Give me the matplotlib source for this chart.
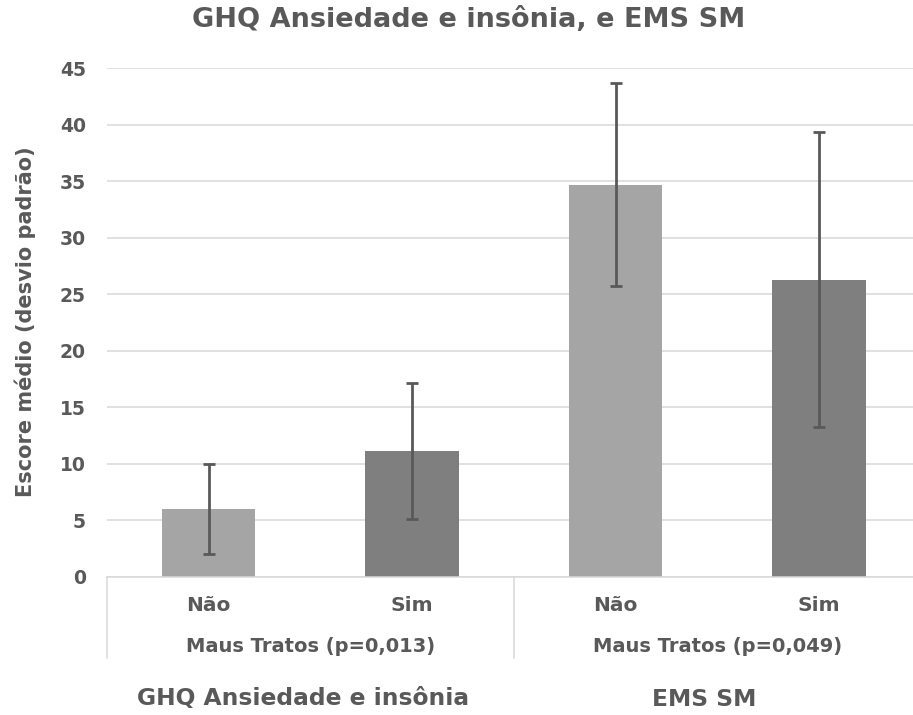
import numpy as np
import matplotlib
matplotlib.use('Agg')
import matplotlib.pyplot as plt

# Dados
grupos = ['GHQ Ansiedade e insônia', 'EMS SM']
testes = ['Maus Tratos (p=0,013)', 'Maus Tratos (p=0,049)']
categorias = ['Não', 'Sim', 'Não', 'Sim']
medias = [6.0, 11.15, 34.7, 26.3]
desvios = [4.0, 6.0, 9.0, 13.0]
cores = ['#a5a5a5', '#7f7f7f', '#a5a5a5', '#7f7f7f']
titulo = 'GHQ Ansiedade e insônia, e EMS SM'
rotulo_y = 'Escore médio (desvio padrão)'

plt.rcParams['font.family'] = ['DejaVu Sans']
cinza = '#595959'
linha = '#d9d9d9'

W, H = 913, 715
fig = plt.figure(figsize=(W / 100, H / 100), dpi=100)
# eixo em pixels: esquerda 106.75, passo de 203.5 por categoria
x0, passo, y_top, y_bot = 106.75, 203.5, 68, 577
ax = fig.add_axes([x0 / W, 1 - y_bot / H, 4 * passo / W, (y_bot - y_top) / H])

x = np.arange(len(categorias))
ax.bar(x, medias, width=0.46, color=cores, zorder=2)
ax.errorbar(x, medias, yerr=desvios, fmt='none', ecolor=cinza, elinewidth=2,
            capsize=4.5, capthick=2, zorder=3)

ax.set_xlim(-0.5, 3.5)
ax.set_ylim(0, 45)
ax.set_yticks(np.arange(0, 46, 5))
ax.yaxis.grid(True, color=linha, linewidth=1.1, zorder=0)
ax.set_axisbelow(True)
for s in ['top', 'right', 'left']:
    ax.spines[s].set_visible(False)
ax.spines['bottom'].set_color(linha)
ax.spines['bottom'].set_linewidth(1.1)

ax.set_xticks(x)
ax.set_xticklabels(categorias, fontsize=14.5, fontweight='bold', color=cinza)
ax.tick_params(axis='x', length=0, pad=13.5)
ax.tick_params(axis='y', length=0, pad=15, labelsize=13.5, labelcolor=cinza)
for lab in ax.get_yticklabels():
    lab.set_fontweight('bold')

# separadores dos grupos abaixo do eixo
h_px = y_bot - y_top
prof = -(658 - y_bot) / h_px
for xs in [0, 0.5]:
    ax.plot([xs, xs], [0, prof], transform=ax.transAxes, color=linha,
            linewidth=1.1, clip_on=False)

# rótulos dos testes
for i, t in enumerate(testes):
    ax.text(0.25 + 0.5 * i, -(647 - y_bot) / h_px, t, transform=ax.transAxes,
            ha='center', va='center', fontsize=14, fontweight='bold', color=cinza)

# nomes das escalas
pos_grupos = [303, 704]
for g, px in zip(grupos, pos_grupos):
    fig.text(px / W, 1 - 699 / H, g, ha='center', va='center', fontsize=16.8,
             fontweight='bold', color=cinza)

fig.text(25 / W, 1 - 322 / H, rotulo_y, rotation=90, ha='center', va='center',
         fontsize=15, fontweight='bold', color=cinza)

fig.text(469 / W, 1 - 20 / H, titulo, ha='center', va='center', fontsize=19.5,
         fontweight='bold', color=cinza)

fig.savefig('out.png', dpi=100)
